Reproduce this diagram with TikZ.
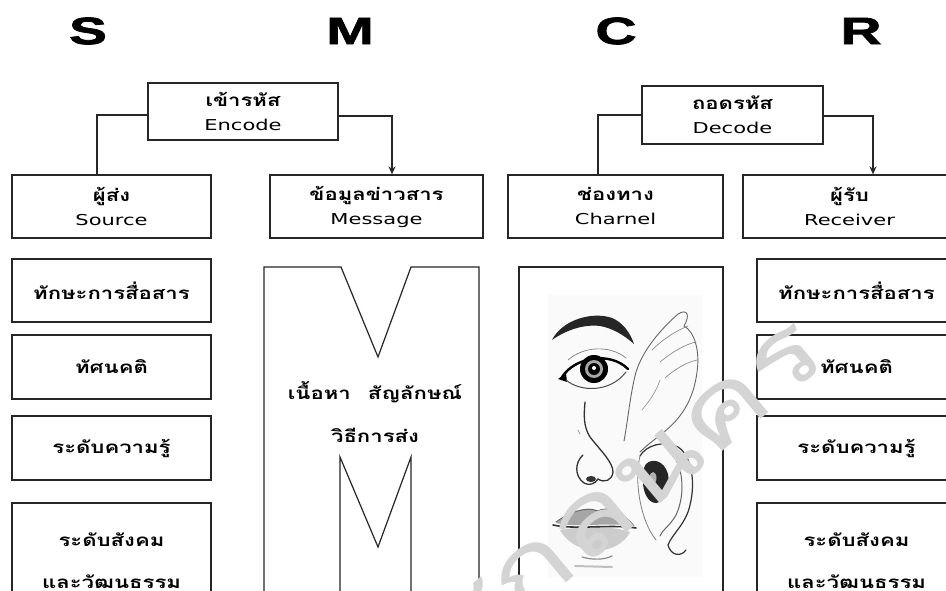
\documentclass[tikz,border=0pt]{standalone}
\usepackage{fontspec}
\usetikzlibrary{arrows.meta}
\newfontfamily\thaifont[Script=Thai,FakeStretch=1.3]{Loma}
\newfontfamily\latinfont[FakeStretch=1.4]{DejaVu Sans}
\newfontfamily\headfont[FakeStretch=1.5,FakeBold=2]{Liberation Sans}
\begin{document}
\begin{tikzpicture}[x=1pt,y=-1pt,
  box/.style={draw=black!85,line width=1.3pt,inner sep=0pt,align=center},
  thaitxt/.style={font=\thaifont\bfseries\fontsize{17}{20}\selectfont},
  pair/.style={box,font=\latinfont\fontsize{15}{24}\selectfont},
  link/.style={draw=black!85,line width=1.3pt},
  head/.style={font=\headfont\bfseries\fontsize{38}{40}\selectfont},
  sketch/.style={line cap=round,line join=round}]

\path[use as bounding box,clip] (0,0) rectangle (946,591);
\fill[white] (0,0) rectangle (946,591);

% S M C R headings
\node[head] (hS) at (88,31) {S};
\node[head] (hM) at (350,31) {M};
\node[head] (hC) at (616,31) {C};
\node[head] (hR) at (861,31) {R};

% encode / decode and the four element boxes
\node[pair,minimum width=190pt,minimum height=57pt] (enc) at (243,111.5)
  {{\thaifont\bfseries\fontsize{17}{20}\selectfont เข้ารหัส}\\Encode};
\node[pair,minimum width=181pt,minimum height=58pt] (dec) at (732.5,115)
  {{\thaifont\bfseries\fontsize{17}{20}\selectfont ถอดรหัส}\\Decode};
\node[pair,minimum width=199pt,minimum height=63pt] (src) at (111.5,206.5)
  {{\thaifont\bfseries\fontsize{17}{20}\selectfont ผู้ส่ง}\\Source};
\node[pair,minimum width=213pt,minimum height=63pt] (msg) at (376.5,206.5)
  {{\thaifont\bfseries\fontsize{17}{20}\selectfont ข้อมูลข่าวสาร}\\Message};
\node[pair,minimum width=215pt,minimum height=63pt] (chn) at (615.5,206.5)
  {{\thaifont\bfseries\fontsize{17}{20}\selectfont ช่องทาง}\\Charnel};
\node[pair,minimum width=213pt,minimum height=63pt] (rcv) at (849.5,206.5)
  {{\thaifont\bfseries\fontsize{17}{20}\selectfont ผู้รับ}\\Receiver};

\draw[link] ([yshift=-3.5pt]enc.west) -| ([xshift=-14.5pt]src.north);
\draw[link,-{Stealth[length=8pt,width=7pt]}] ([yshift=-4.5pt]enc.east) -| ([xshift=15.5pt]msg.north);
\draw[link] (dec.west) -| ([xshift=-17.5pt]chn.north);
\draw[link,-{Stealth[length=8pt,width=7pt]}] ([yshift=-1pt]dec.east) -| ([xshift=23.5pt]rcv.north);

% sender factors
\node[box,thaitxt,minimum width=199pt,minimum height=63pt] (ls1) at (111.5,290.5) {ทักษะการสื่อสาร};
\node[box,thaitxt,minimum width=199pt,minimum height=64pt] (ls2) at (111.5,367) {ทัศนคติ};
\node[box,thaitxt,minimum width=199pt,minimum height=64pt] (ls3) at (111.5,448) {ระดับความรู้};
\node[box,minimum width=199pt,minimum height=127pt] (ls4) at (111.5,566.5) {};
\node[thaitxt] (ls4a) at (111.5,540) {ระดับสังคม};
\node[thaitxt] (ls4b) at (111.5,582) {และวัฒนธรรม};

% receiver factors
\node[box,thaitxt,minimum width=199pt,minimum height=63pt] (rs1) at (856.5,290.5) {ทักษะการสื่อสาร};
\node[box,thaitxt,minimum width=199pt,minimum height=64pt] (rs2) at (856.5,367) {ทัศนคติ};
\node[box,thaitxt,minimum width=199pt,minimum height=64pt] (rs3) at (856.5,448) {ระดับความรู้};
\node[box,minimum width=199pt,minimum height=127pt] (rs4) at (856.5,566.5) {};
\node[thaitxt] (rs4a) at (856.5,540) {ระดับสังคม};
\node[thaitxt] (rs4b) at (856.5,582) {และวัฒนธรรม};

% message panel with the M cut-out
\draw[link,line width=1.2pt,line join=miter]
  (264,600) -- (264,267) -- (341,267) -- (378,357) -- (411,267) -- (479,267) -- (479,600);
\draw[link,line width=1.2pt,line join=miter]
  (340,600) -- (340,457) -- (378,547) -- (411,457) -- (411,600);
\node[thaitxt] (mc1) at (375,392) {เนื้อหา\quad สัญลักษณ์};
\node[thaitxt] (mc2) at (375,435) {วิธีการส่ง};

% channel panel with the senses sketch
\draw[link] (519,600) -- (519,267) -- (723,267) -- (723,600);
\fill[black!2] (548,295) rectangle (702,577);
\begin{scope}[sketch]
  % eyebrow
  \fill[black!85] (552,340) .. controls (562,320) and (592,311) .. (612,318)
    .. controls (622,322) and (630,332) .. (634,344)
    .. controls (624,335) and (612,328) .. (600,326)
    .. controls (584,324) and (566,330) .. (552,340) -- cycle;
  % eye
  \draw[black!50,line width=0.7pt] (568,360) .. controls (584,346) and (610,345) .. (626,358);
  \fill[black] (558,379) -- (566,373) -- (567,382) -- cycle;
  \draw[black,line width=2.4pt] (562,377) .. controls (575,357) and (610,351) .. (628,369);
  \draw[black!70,line width=1pt] (566,380) .. controls (580,392) and (610,393) .. (626,372);
  \fill[black] (594,369) circle (14);
  \fill[black!35] (594,369) circle (9);
  \fill[black] (594,369) circle (6);
  \fill[white] (594,368) circle (2);
  % nose
  \draw[black!80,line width=1.3pt] (585,402) .. controls (584,414) and (583,426) .. (590,437)
    .. controls (600,450) and (613,462) .. (613,472) .. controls (612,481) and (604,483) .. (598,479);
  \draw[black!80,line width=1.3pt] (583,455) .. controls (575,462) and (574,476) .. (584,483)
    .. controls (589,486) and (595,484) .. (598,479);
  \fill[black!80] (591,479) ellipse (5 and 3);
  \draw[black!40,line width=0.8pt] (578,430) -- (580,434);
  % lips
  \fill[black!35] (556,523) .. controls (570,512) and (586,506) .. (598,511)
    .. controls (606,506) and (622,511) .. (634,526)
    .. controls (610,522) and (576,528) .. (556,523) -- cycle;
  \fill[black!20] (560,530) .. controls (578,527) and (612,525) .. (630,532)
    .. controls (618,556) and (576,558) .. (560,530) -- cycle;
  \draw[black!80,line width=1.6pt] (553,525) .. controls (575,530) and (610,524) .. (636,528);
  \draw[black!60,line width=1pt] (556,522) .. controls (570,512) and (586,506) .. (598,511)
    .. controls (606,506) and (622,511) .. (634,526);
  \draw[black!45,line width=1.2pt] (582,557) .. controls (592,560) and (604,560) .. (612,556);
  \draw[black!25,line width=2pt] (575,566) -- (612,567);
  % hand
  \draw[black!60,line width=0.9pt] (624,441) .. controls (628,420) and (630,395) .. (636,372)
    .. controls (643,350) and (660,330) .. (678,314) .. controls (688,308) and (690,316) .. (684,326)
    .. controls (695,332) and (700,352) .. (697,372) .. controls (694,396) and (684,416) .. (664,432)
    .. controls (654,440) and (646,446) .. (640,452);
  \draw[black!45,line width=0.7pt] (652,350) .. controls (664,338) and (678,330) .. (688,326);
  \draw[black!45,line width=0.7pt] (660,362) .. controls (672,352) and (686,344) .. (696,342);
  \draw[black!45,line width=0.7pt] (665,378) .. controls (676,368) and (688,362) .. (697,360);
  \draw[black!40,line width=0.7pt] (642,410) .. controls (650,400) and (656,392) .. (660,380);
  % ear
  \draw[black!80,line width=1.2pt] (640,456) .. controls (646,445) and (665,440) .. (678,447)
    .. controls (691,455) and (696,481) .. (690,505) .. controls (686,524) and (672,534) .. (668,545)
    .. controls (671,556) and (681,557) .. (686,550);
  \fill[black!85] (646,464) .. controls (652,458) and (664,460) .. (668,474)
    .. controls (671,488) and (664,502) .. (656,503) .. controls (648,503) and (643,492) .. (643,482)
    .. controls (643,474) and (643,468) .. (646,464) -- cycle;
  \fill[black!30] (653,478) ellipse (3.5 and 6);
  \draw[black!60,line width=1pt] (676,460) .. controls (684,475) and (684,498) .. (676,515)
    .. controls (670,526) and (662,530) .. (660,536);
  \draw[black!50,line width=0.8pt] (640,456) .. controls (634,480) and (640,520) .. (656,540);
\end{scope}

% watermark
\node[rotate=40,text=black!17,font=\thaifont\fontsize{100}{100}\selectfont,anchor=east,inner sep=0pt]
  (wm) at (812,338) {ราชภัฏสกลนคร};
\end{tikzpicture}
\end{document}
